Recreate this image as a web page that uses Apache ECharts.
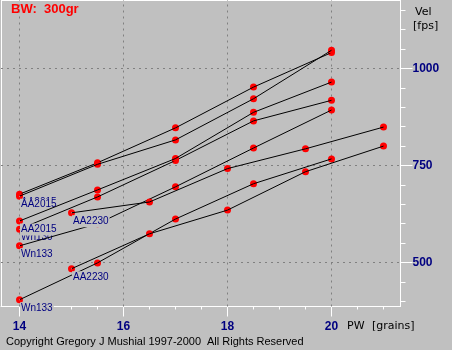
<!DOCTYPE html>
<html><head><meta charset="utf-8">
<script src="https://cdn.jsdelivr.net/npm/echarts@6/dist/echarts.min.js"></script>
<style>html,body{margin:0;padding:0;background:#c0c0c0}#c{width:452px;height:350px}</style>
</head><body><div id="c"></div>
<script>
// ---- data ----
const xFrom14 = [14, 15.5, 17, 18.5, 20];
const xFrom15 = [15, 16.5, 18, 19.5, 21];
const aa2015a = [676, 757, 847, 952, 1041];
const aa2015b = [671, 753, 816, 922, 1047];
const wn130   = [586, 669, 763, 865, 918];
const aa2015c = [607, 687, 768, 887, 965];
const wn133a  = [543, 600, 695, 795, 893];
const aa2230a = [628, 656, 742, 793, 849];
const wn133b  = [404, 499, 612, 703, 767];
const aa2230b = [484, 574, 635, 734, 800];
const seriesNames = ['AA2015', 'AA2015', 'Wn130', 'AA2015', 'Wn133', 'AA2230', 'Wn133', 'AA2230'];
const seriesX = [xFrom14, xFrom14, xFrom14, xFrom14, xFrom14, xFrom15, xFrom14, xFrom15];
const seriesY = [aa2015a, aa2015b, wn130, aa2015c, wn133a, aa2230a, wn133b, aa2230b];
const xMinorTicks = [14, 14.5, 15, 15.5, 16, 16.5, 17, 17.5, 18, 18.5, 19, 19.5, 20, 20.5, 21];
const xMajorTicks = [14, 16, 18, 20];
const yMinorTicks = [400, 450, 500, 550, 600, 650, 700, 750, 800, 850, 900, 950, 1000, 1050, 1100, 1150];
const yMajorTicks = [500, 750, 1000];
const titleText = 'BW:  300gr';
const copyrightText = 'Copyright Gregory J Mushial 1997-2000';
const rightsText = 'All Rights Reserved';

// ---- scale ----
const xPx = 52;        // px per grain
const yPx = 97 / 250;  // px per fps
const xMin = 14 - 18.5 / xPx, xMax = 14 + 381 / xPx;
const yMax = 1000 + 68.5 / yPx, yMin = 1000 - 238 / yPx;

const navy = '#000080';
const sans = '"Liberation Sans", Arial, sans-serif';

const series = [];
// grid lines
series.push({
  type: 'line', data: [], silent: true, z: 1,
  markLine: {
    z: 1, silent: true, symbol: ['none', 'none'], label: { show: false }, animation: false,
    lineStyle: { color: '#808080', width: 1, type: [2, 4] },
    emphasis: { disabled: true },
    data: xMajorTicks.map(v => ({ xAxis: v })).concat(yMajorTicks.map(v => ({ yAxis: v })))
  }
});
seriesNames.forEach((name, i) => {
  const pts = seriesX[i].map((x, k) => [x, seriesY[i][k]]);
  series.push({
    type: 'scatter', data: pts, symbol: 'circle', symbolSize: 7, z: 10 + 3 * i,
    itemStyle: { color: '#ff0000', opacity: 1 }, silent: true, animation: false
  });
  series.push({
    type: 'line', data: pts, showSymbol: false, symbol: 'none', z: 11 + 3 * i,
    lineStyle: { color: '#000000', width: 1 }, silent: true, animation: false
  });
  series.push({
    type: 'scatter', data: [pts[0]], symbolSize: 1, z: 12 + 3 * i,
    itemStyle: { color: '#c0c0c0', opacity: 1 }, silent: true, animation: false,
    label: {
      show: true, formatter: name, position: [1, 3], opacity: 1,
      color: navy, fontSize: 10, fontFamily: sans,
      backgroundColor: '#c0c0c0', padding: [1, 1, 1, 1]
    },
    labelLayout: { hideOverlap: false }
  });
});

const chart = echarts.init(document.getElementById('c'), null, { renderer: 'canvas' });
chart.setOption({
  backgroundColor: '#c0c0c0',
  animation: false,
  grid: { left: 1, top: 0, width: 399.5, height: 306.5 },
  xAxis: [{
    type: 'value', min: xMin, max: xMax, position: 'bottom',
    axisLine: { lineStyle: { color: '#ffffff', width: 1 } },
    axisTick: { show: true, customValues: xMinorTicks, length: 3, inside: false, lineStyle: { color: '#ffffff' } },
    axisLabel: { show: false }, splitLine: { show: false }
  }, {
    type: 'value', min: xMin, max: xMax, position: 'bottom',
    axisLine: { show: false },
    axisTick: { show: true, customValues: xMajorTicks, length: 10, lineStyle: { color: '#ffffff' } },
    axisLabel: { show: true, customValues: xMajorTicks, formatter: v => String(v), margin: 14, color: navy, fontWeight: 'bold', fontSize: 12, fontFamily: sans },
    splitLine: { show: false }
  }],
  yAxis: [{
    type: 'value', min: yMin, max: yMax, position: 'right',
    axisLine: { show: true, lineStyle: { color: '#ffffff', width: 1 } },
    axisTick: { show: true, customValues: yMinorTicks, length: 5, lineStyle: { color: '#ffffff' } },
    axisLabel: { show: false }, splitLine: { show: false }
  }, {
    type: 'value', min: yMin, max: yMax, position: 'right',
    axisLine: { show: false },
    axisTick: { show: true, customValues: yMajorTicks, length: 12, lineStyle: { color: '#ffffff' } },
    axisLabel: { show: true, customValues: yMajorTicks, formatter: v => String(v), margin: 12, align: 'left', color: navy, fontWeight: 'bold', fontSize: 12, fontFamily: sans },
    splitLine: { show: false }
  }],
  graphic: [
    { type: 'line', shape: { x1: 1.5, y1: 0, x2: 1.5, y2: 306 }, style: { stroke: '#ffffff', lineWidth: 1 }, z: 0, silent: true },
    { type: 'line', shape: { x1: 1, y1: 0.5, x2: 400, y2: 0.5 }, style: { stroke: '#ffffff', lineWidth: 1 }, z: 0, silent: true },
    { type: 'text', x: 11, y: 3, style: { text: titleText, font: 'bold 13px ' + sans, fill: '#ff0000', verticalAlign: 'top' }, silent: true },
    { type: 'text', x: 415, y: 7, style: { text: 'Vel', font: '11px "DejaVu Sans"', fill: '#000000', verticalAlign: 'top' }, silent: true },
    { type: 'text', x: 413, y: 21, style: { text: '[fps]', font: '11px "DejaVu Sans"', fill: '#000000', verticalAlign: 'top' }, silent: true },
    { type: 'text', x: 347, y: 321, style: { text: 'PW', font: '11px "DejaVu Sans"', fill: '#000000', verticalAlign: 'top' }, silent: true },
    { type: 'text', x: 372, y: 321, style: { text: '[grains]', font: '11px "DejaVu Sans"', fill: '#000000', verticalAlign: 'top' }, silent: true },
    { type: 'text', x: 6, y: 336, style: { text: copyrightText, font: '11px ' + sans, fill: '#000000', verticalAlign: 'top' }, silent: true },
    { type: 'text', x: 207, y: 336, style: { text: rightsText, font: '11px ' + sans, fill: '#000000', verticalAlign: 'top' }, silent: true }
  ],
  series: series
});
</script></body></html>
